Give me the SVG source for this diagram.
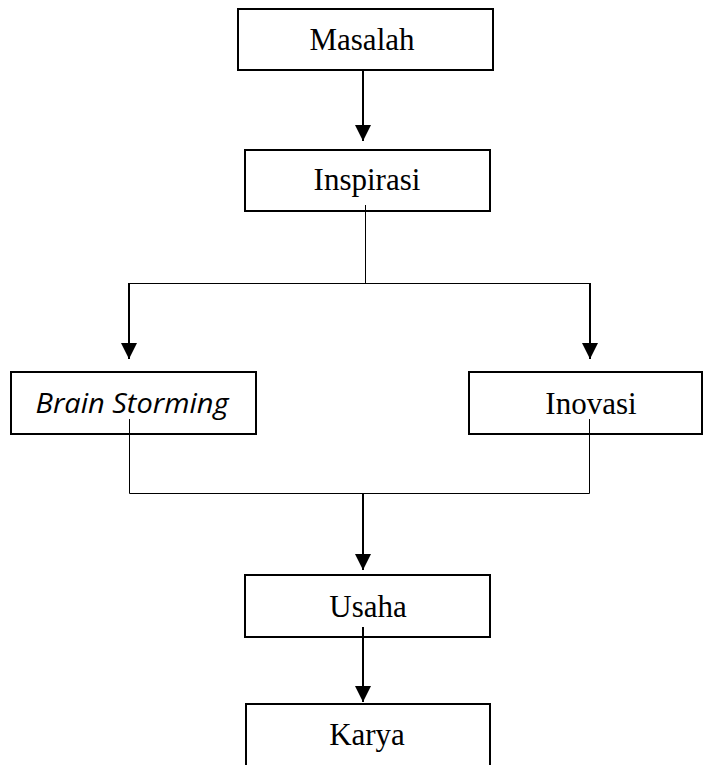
<svg xmlns="http://www.w3.org/2000/svg" width="703" height="765" viewBox="0 0 703 765">
<style>
.box{fill:#fff;stroke:#000;stroke-width:2}
.t{font-family:"Liberation Serif","Times New Roman",serif;font-size:31px;fill:#000;text-anchor:middle}
.ti{font-family:"Open Sans","Liberation Sans",sans-serif;font-style:italic;font-size:27px;fill:#000;text-anchor:middle}
.thin{fill:none;stroke:#000;stroke-width:1}
.arr{fill:none;stroke:#000;stroke-width:2}
</style>
<defs>
<marker id="ah" markerUnits="userSpaceOnUse" markerWidth="16" markerHeight="16" viewBox="0 0 16 16" refX="16" refY="8" orient="auto">
<path d="M0,0 L16,8 L0,16 Z" fill="#000"/>
</marker>
</defs>
<rect width="703" height="765" fill="#fff"/>
<g id="connectors">
<line class="arr" x1="363" y1="66" x2="363" y2="141" marker-end="url(#ah)"/>
<path class="thin" d="M365.5,205 V283.5 M129,283.5 H590"/>
<line class="arr" x1="129" y1="283" x2="129" y2="359" marker-end="url(#ah)"/>
<line class="arr" x1="590" y1="283" x2="590" y2="359" marker-end="url(#ah)"/>
<path class="thin" d="M129.5,419 V493.5 H589.5 V419"/>
<line class="arr" x1="363" y1="493" x2="363" y2="570" marker-end="url(#ah)"/>
<line class="arr" x1="363" y1="627" x2="363" y2="702" marker-end="url(#ah)"/>
</g>
<g id="masalah"><rect class="box" x="238" y="9" width="255" height="61"/><text class="t" x="362" y="50">Masalah</text></g>
<g id="inspirasi"><rect class="box" x="245" y="150" width="245" height="61"/><text class="t" x="367" y="190">Inspirasi</text></g>
<g id="brainstorming"><rect class="box" x="11" y="372" width="245" height="62"/><text class="ti" x="132" y="413" textLength="193" lengthAdjust="spacingAndGlyphs">Brain Storming</text></g>
<g id="inovasi"><rect class="box" x="469" y="372" width="233" height="62"/><text class="t" x="591" y="414">Inovasi</text></g>
<g id="usaha"><rect class="box" x="245" y="575" width="245" height="62"/><text class="t" x="368" y="617">Usaha</text></g>
<g id="karya"><rect class="box" x="246" y="704" width="244" height="80"/><text class="t" x="367" y="745">Karya</text></g>
<path class="thin" d="M129.5,419 V434 M589.5,419 V434 M365.5,205 V211"/>
<line class="arr" x1="363" y1="627" x2="363" y2="637"/>
</svg>
